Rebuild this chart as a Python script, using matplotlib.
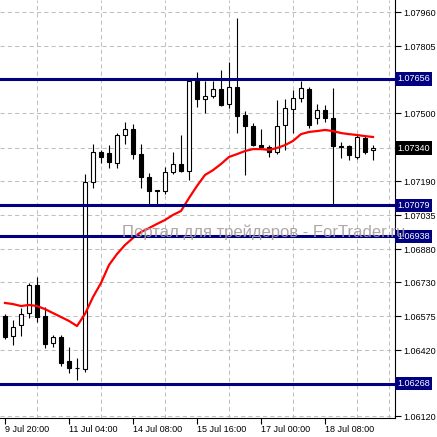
import matplotlib
matplotlib.use('Agg')
import matplotlib.pyplot as plt
import numpy as np

# H4 EURUSD-style candles
opens = [1.06576, 1.06485, 1.06535, 1.06589, 1.06717, 1.06576, 1.06453, 1.06480, 1.06371, 1.06339,
         1.06334, 1.07186, 1.07322, 1.07318, 1.07272, 1.07400, 1.07427, 1.07313, 1.07209, 1.07149,
         1.07145, 1.07231, 1.07268, 1.07236, 1.07646, 1.07564, 1.07577, 1.07609, 1.07541, 1.07618,
         1.07491, 1.07441, 1.07354, 1.07345, 1.07322, 1.07445, 1.07518, 1.07568, 1.07609, 1.07477,
         1.07514, 1.07477, 1.07350, 1.07350, 1.07300, 1.07386, 1.07332]
highs = [1.06585, 1.06557, 1.06612, 1.06726, 1.06753, 1.06617, 1.06489, 1.06489, 1.06434, 1.06384,
         1.07222, 1.07359, 1.07332, 1.07354, 1.07409, 1.07459, 1.07450, 1.07359, 1.07227, 1.07149,
         1.07254, 1.07322, 1.07400, 1.07655, 1.07687, 1.07646, 1.07646, 1.07696, 1.07732, 1.07933,
         1.07509, 1.07455, 1.07427, 1.07354, 1.07559, 1.07564, 1.07605, 1.07646, 1.07618, 1.07541,
         1.07536, 1.07614, 1.07368, 1.07354, 1.07400, 1.07400, 1.07354]
lows = [1.06471, 1.06444, 1.06485, 1.06566, 1.06548, 1.06430, 1.06434, 1.06348, 1.06316, 1.06284,
        1.06321, 1.07158, 1.07272, 1.07250, 1.07250, 1.07359, 1.07291, 1.07158, 1.07081, 1.07081,
        1.07131, 1.07222, 1.07231, 1.07195, 1.07527, 1.07500, 1.07568, 1.07532, 1.07523, 1.07409,
        1.07218, 1.07350, 1.07336, 1.07300, 1.07313, 1.07332, 1.07409, 1.07550, 1.07432, 1.07450,
        1.07459, 1.07081, 1.07295, 1.07286, 1.07291, 1.07313, 1.07286]
closes = [1.06480, 1.06525, 1.06585, 1.06717, 1.06571, 1.06448, 1.06480, 1.06362, 1.06339, 1.06337,
          1.07186, 1.07322, 1.07300, 1.07277, 1.07400, 1.07427, 1.07313, 1.07209, 1.07145, 1.07145,
          1.07231, 1.07268, 1.07236, 1.07646, 1.07564, 1.07577, 1.07609, 1.07536, 1.07618, 1.07486,
          1.07441, 1.07354, 1.07345, 1.07322, 1.07441, 1.07523, 1.07568, 1.07614, 1.07445, 1.07514,
          1.07477, 1.07350, 1.07345, 1.07309, 1.07391, 1.07322, 1.07340]
ma = [1.06635, 1.06630, 1.06621, 1.06626, 1.06621, 1.06607, 1.06589, 1.06571, 1.06553, 1.06530,
      1.06585, 1.06662, 1.06726, 1.06808, 1.06858, 1.06899, 1.06931, 1.06958, 1.06976, 1.06995,
      1.07013, 1.07036, 1.07054, 1.07113, 1.07168, 1.07218, 1.07240, 1.07268, 1.07300, 1.07313,
      1.07327, 1.07336, 1.07336, 1.07332, 1.07341, 1.07354, 1.07373, 1.07404, 1.07414, 1.07418,
      1.07423, 1.07418, 1.07409, 1.07404, 1.07400, 1.07395, 1.07391]

levels = [1.07656, 1.07079, 1.06938, 1.06268]
last_price = 1.07340
price_ticks = [1.07960, 1.07805, 1.07656, 1.07500, 1.07340, 1.07190, 1.07035,
               1.06880, 1.06730, 1.06575, 1.06420, 1.06268, 1.06120]
time_labels = ['9 Jul 20:00', '11 Jul 04:00', '14 Jul 08:00', '15 Jul 16:00', '17 Jul 00:00', '18 Jul 08:00']
time_label_bars = [0, 8, 16, 24, 32, 40]
watermark = 'Портал для трейдеров - ForTrader.ru'

W = H = 437
fig = plt.figure(figsize=(W / 100, H / 100), dpi=100)
ax = fig.add_axes([0, 19 / H, 395 / W, 418 / H])
ax.set_xlim(-0.625, 48.75)
ax.set_ylim(1.06111, 1.08015)

o = np.array(opens)
c = np.array(closes)
idx = np.arange(len(o))
bull = c >= o

# grid
ax.set_xticks(time_label_bars)
ax.set_xticklabels(time_labels)
ax.set_xticks(np.arange(0, 49, 4), minor=True)
ax.grid(True, axis='x', which='minor', color='#c0c0c0', ls=(0, (4, 3)), lw=0.75, zorder=0)
ax.set_yticks(price_ticks)
skip = set(levels) | {last_price}
ax.set_yticklabels(['' if v in skip else '%.5f' % v for v in price_ticks])
ax.grid(True, axis='y', which='major', color='#c0c0c0', ls=(0, (4, 3)), lw=0.75, zorder=0)
ax.set_axisbelow(True)

# candles
ax.vlines(idx, lows, highs, color='black', lw=0.8, zorder=2)
ax.bar(idx, np.abs(c - o), width=0.62, bottom=np.minimum(o, c),
       color=np.where(bull, 'white', 'black'), edgecolor='black', linewidth=0.8, zorder=3)

ax.plot(idx, ma, color='#ff0000', lw=1.6, zorder=4)

for v in levels:
    ax.axhline(v, color='#000080', lw=2.2, zorder=5)

ytr = ax.get_yaxis_transform()
for v in levels:
    ax.text(1.006, v, '%.5f' % v, transform=ytr, ha='left', va='center', color='white',
            fontsize=6.5, family='Liberation Sans', clip_on=False, zorder=6,
            bbox=dict(boxstyle='square,pad=0.25', fc='#000080', ec='none'))
ax.text(1.006, last_price, '%.5f' % last_price, transform=ytr, ha='left', va='center', color='white',
        fontsize=6.5, family='Liberation Sans', clip_on=False, zorder=6,
        bbox=dict(boxstyle='square,pad=0.25', fc='black', ec='none'))

ax.yaxis.tick_right()
ax.tick_params(axis='y', which='major', direction='out', length=4, width=0.8, pad=2,
               labelsize=6.5, colors='black')
ax.tick_params(axis='x', which='major', direction='out', length=4, width=0.8, pad=1, labelsize=6.5)
ax.tick_params(axis='x', which='minor', length=0)
for lab in ax.get_xticklabels() + ax.get_yticklabels():
    lab.set_family('Liberation Sans')
for lab in ax.get_xticklabels():
    lab.set_ha('left')

ax.spines['left'].set_visible(False)
ax.spines['top'].set_visible(False)
ax.spines['right'].set_linewidth(0.8)
ax.spines['bottom'].set_linewidth(0.8)

fig.text(122 / W, (H - 237) / H, watermark, fontsize=12, family='Liberation Sans',
         color='#a89c9c', ha='left', va='baseline', alpha=0.9)

fig.savefig('out.png', dpi=100)
